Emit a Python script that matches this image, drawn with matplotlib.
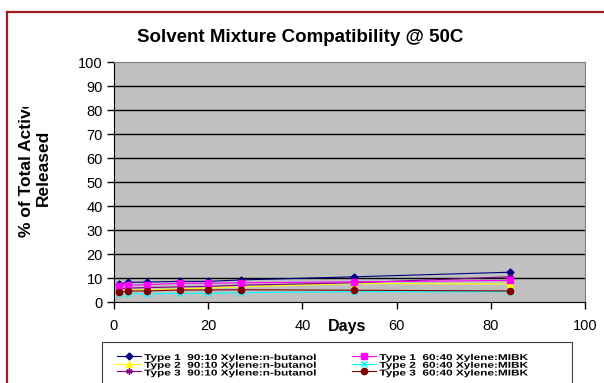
import matplotlib
matplotlib.use("Agg")
import matplotlib.pyplot as plt
from matplotlib.lines import Line2D
from matplotlib.patches import Rectangle
from matplotlib.patheffects import AbstractPathEffect
from matplotlib.transforms import Affine2D, Bbox, TransformedBbox

plt.rcParams["font.family"] = ["Liberation Sans", "DejaVu Sans"]

days = [1, 3, 7, 14, 20, 27, 51, 84]
type1_90 = [7.5, 8.2, 8.3, 8.6, 8.6, 9.2, 10.5, 12.4]
type2_90 = [4.5, 5.0, 5.0, 5.5, 5.8, 6.3, 7.7, 7.5]
type3_90 = [5.5, 5.8, 6.0, 6.3, 6.5, 7.0, 8.0, 10.5]
type1_60 = [6.8, 7.0, 7.2, 7.8, 7.8, 8.0, 8.4, 9.0]
type2_60 = [3.2, 3.4, 3.4, 3.6, 3.6, 3.9, 4.3, 4.3]
type3_60 = [4.0, 4.6, 4.6, 5.0, 5.0, 5.1, 4.9, 4.6]

labels = ["Type 1  90:10 Xylene:n-butanol", "Type 2  90:10 Xylene:n-butanol",
          "Type 3  90:10 Xylene:n-butanol", "Type 1  60:40 Xylene:MIBK",
          "Type 2  60:40 Xylene:MIBK", "Type 3  60:40 Xylene:MIBK"]


class Squash(AbstractPathEffect):
    # legend text in the original is squashed vertically
    def __init__(self, sy):
        super().__init__()
        self.sy = sy

    def draw_path(self, renderer, gc, tpath, affine, rgbFace=None):
        renderer.draw_path(gc, tpath, Affine2D().scale(1, self.sy) + affine, rgbFace)


W, H = 604, 383
fig = plt.figure(figsize=(W / 100, H / 100), dpi=100)
ax = fig.add_axes([114 / W, 1 - 302 / H, (585 - 114) / W, (302 - 62) / H])
ax.set_facecolor("#C0C0C0")

series = [
    (type1_90, "#000080", "D", 3.5),
    (type2_90, "#FFFF00", "^", 4.5),
    (type3_90, "#800080", (6, 2, 0), 4.5),
    (type1_60, "#FF00FF", "s", 4),
    (type2_60, "#00FFFF", "x", 4),
    (type3_60, "#800000", "o", 4.5),
]
for (vals, col, mk, ms), lab in zip(series, labels):
    ax.plot(days, vals, color=col, marker=mk, markersize=ms, lw=0.8,
            markeredgecolor=col, markerfacecolor=col, label=lab)

ax.set_xlim(0, 100)
ax.set_ylim(0, 100)
ax.set_xticks(range(0, 101, 20))
ax.set_yticks(range(0, 101, 10))
for y in range(10, 100, 10):
    ax.axhline(y, color="black", lw=1, zorder=0.5)
ax.tick_params(labelsize=10.5, length=5, width=1, color="black")
ax.tick_params(axis="x", pad=7)
ax.tick_params(axis="y", pad=3)
for s in ["top", "right"]:
    ax.spines[s].set_color("#808080")
for s in ["left", "bottom"]:
    ax.spines[s].set_color("black")

fig.text(300 / W, 1 - 37 / H, "Solvent Mixture Compatibility @ 50C",
         ha="center", va="center", fontsize=13.5, fontweight="bold")
fig.text(347 / W, 1 - 326 / H, "Days", ha="center", va="center",
         fontsize=11.5, fontweight="bold")
ylab = fig.text(35 / W, 1 - 168 / H, "% of Total Active\nReleased", rotation=90,
                ha="center", va="center", multialignment="center",
                fontsize=12.5, fontweight="bold", linespacing=1.15)
ylab.set_clip_box(TransformedBbox(Bbox([[0, 0], [1, 1 - 107 / H]]), fig.transFigure))
ylab.set_clip_on(True)

# legend
handles, labs = ax.get_legend_handles_labels()
leg = fig.legend(handles, labs, ncol=2, loc="upper left",
                 bbox_to_anchor=(117 / W, 1 - 351 / H), frameon=False,
                 prop={"size": 8.5, "weight": "bold"}, labelspacing=-0.36,
                 handlelength=2.0, handletextpad=0.3, columnspacing=3.0,
                 borderpad=0, borderaxespad=0)
for t in leg.get_texts():
    t.set_path_effects([Squash(0.72)])
fig.patches.append(Rectangle((102 / W, -0.05), (572 - 102) / W, 0.05 + (383 - 342) / H,
                             transform=fig.transFigure, fill=False,
                             edgecolor="#404040", lw=0.8))

# chart area border
red = "#9E1B22"
fig.lines.append(Line2D([7.5 / W, 1], [1 - 12 / H, 1 - 12 / H], transform=fig.transFigure,
                        color=red, lw=1.6))
fig.lines.append(Line2D([7.5 / W, 7.5 / W], [0, 1 - 12 / H], transform=fig.transFigure,
                        color=red, lw=1.6))

fig.savefig("out.png", dpi=100)
